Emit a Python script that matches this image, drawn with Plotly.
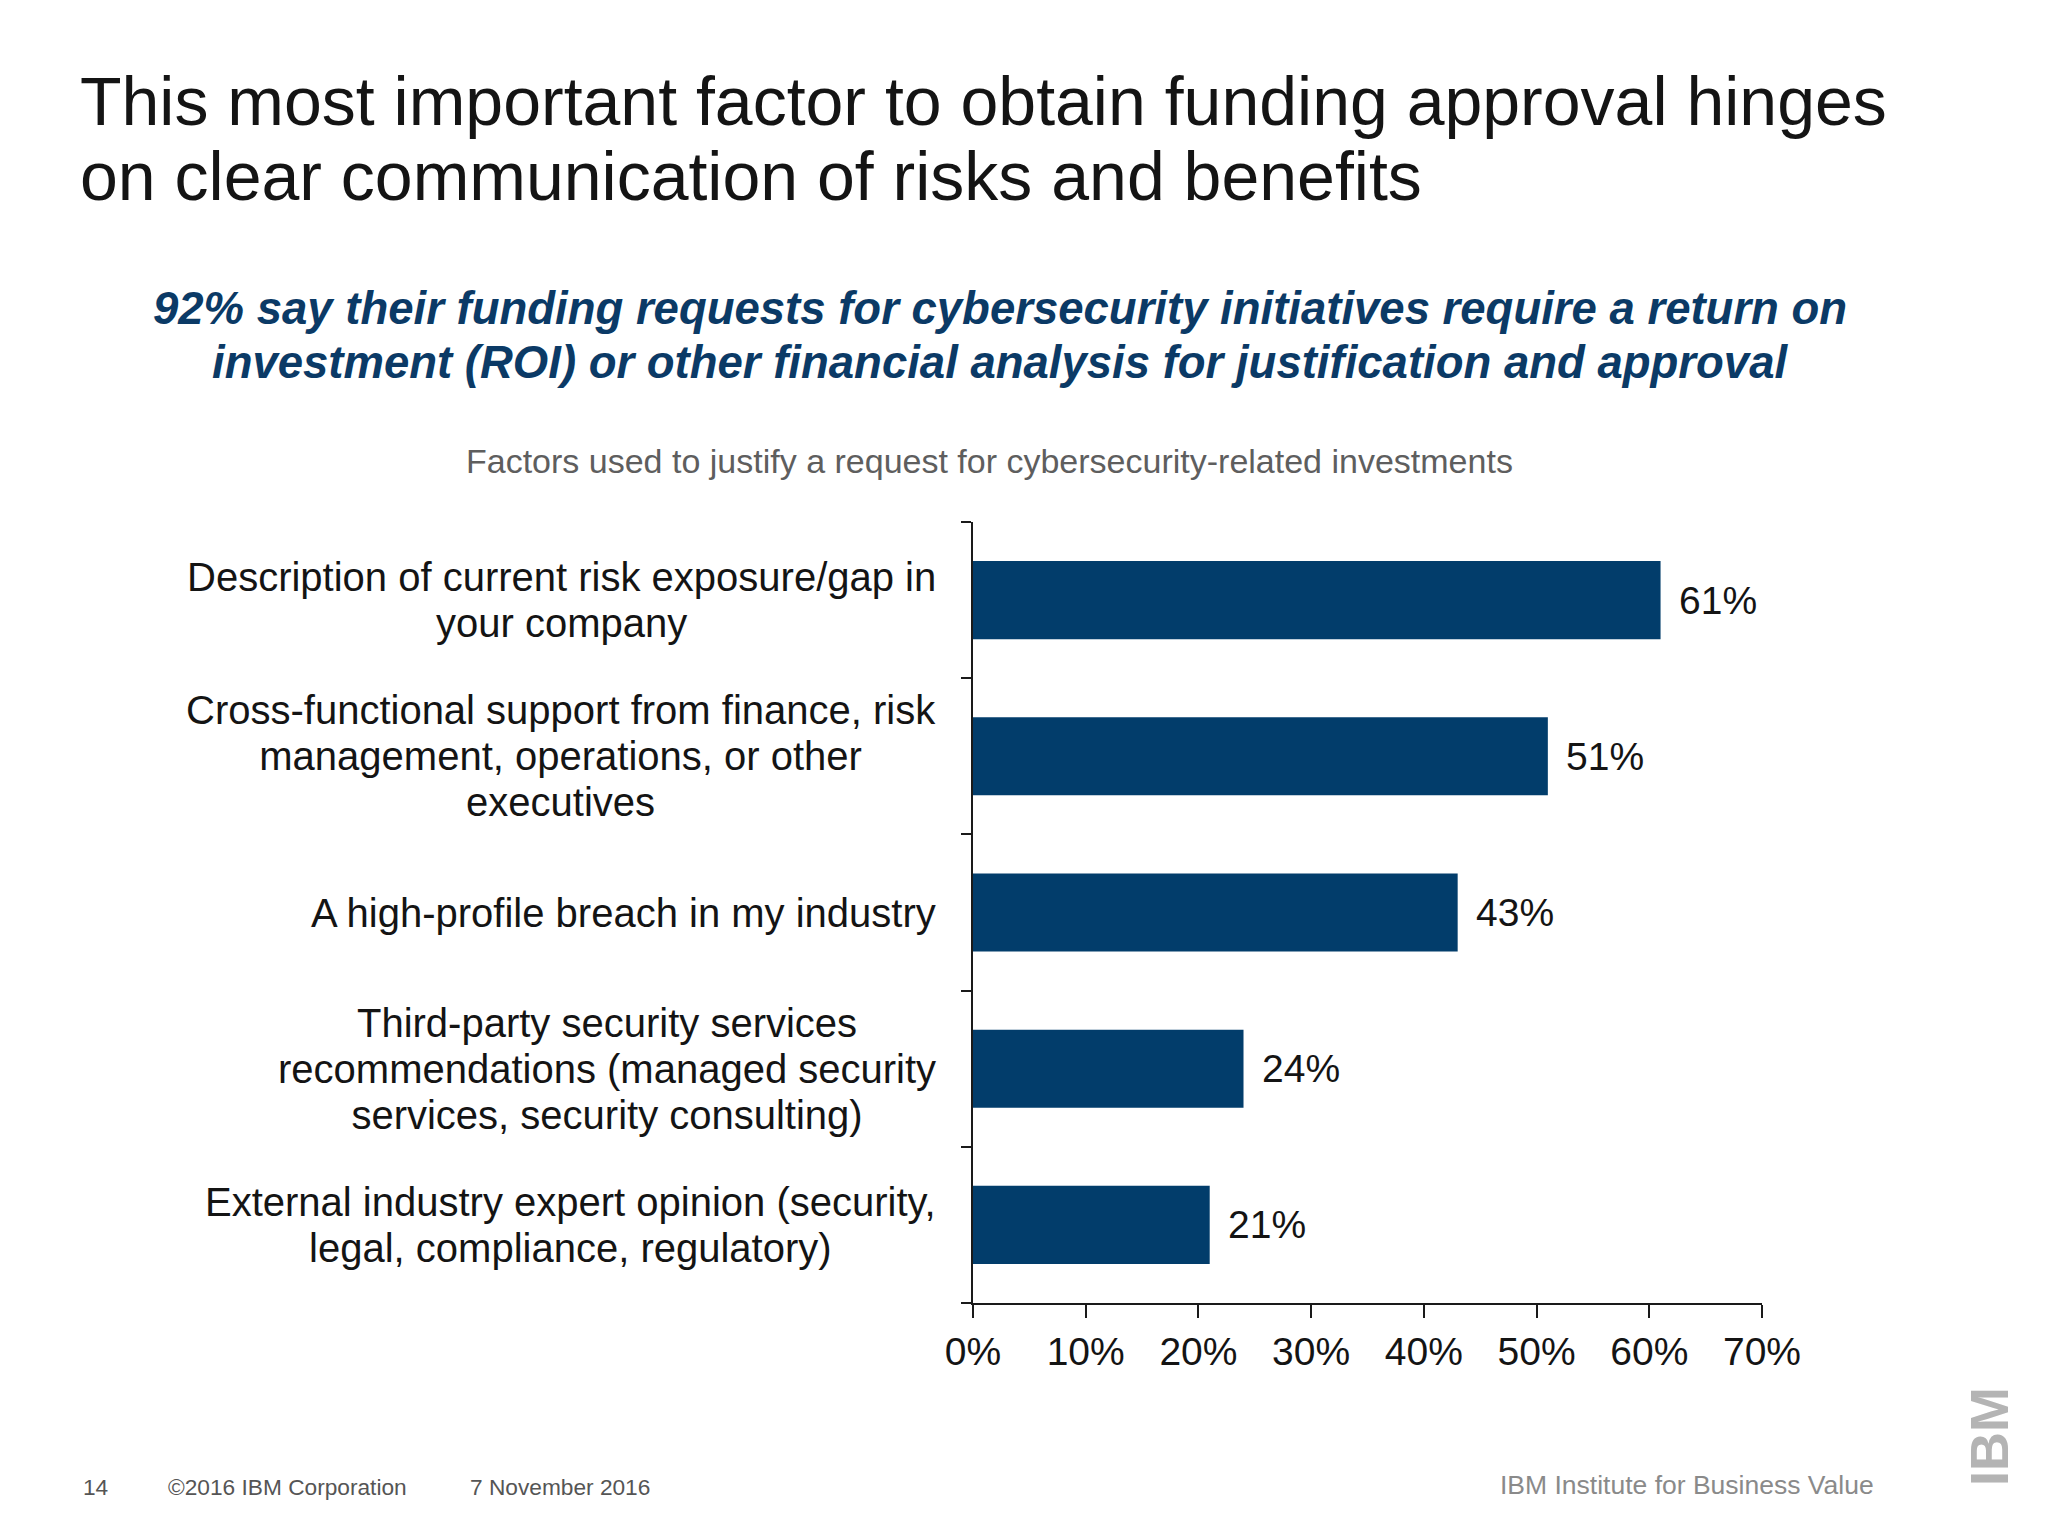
import plotly.graph_objects as go

# ---- data ----
categories = [
    "Description of current risk exposure/gap in<br>your company",
    "Cross-functional support from finance, risk<br>management, operations, or other<br>executives",
    "A high-profile breach in my industry",
    "Third-party security services<br>recommendations (managed security<br>services, security consulting)",
    "External industry expert opinion (security,<br>legal, compliance, regulatory)",
]
values = [61, 51, 43, 24, 21]
x_ticks = [0, 10, 20, 30, 40, 50, 60, 70]
x_tick_labels = ["0%", "10%", "20%", "30%", "40%", "50%", "60%", "70%"]

title_lines = [
    "This most important factor to obtain funding approval hinges",
    "on clear communication of risks and benefits",
]
subtitle_lines = [
    "92% say their funding requests for cybersecurity initiatives require a return on",
    "investment (ROI) or other financial analysis for justification and approval",
]
chart_title = "Factors used to justify a request for cybersecurity-related investments"

W, H = 2048, 1536
OFF = 8  # page body margin
PL, PR, PT, PB = 973 - OFF, 1762 - OFF, 522 - OFF, 1303 - OFF  # plot area in figure pixels

FONT = "Liberation Sans, Arial, Helvetica, sans-serif"
BAR = "#023d6b"
TXT = "#141414"


def px(xpix):
    return (xpix - OFF - PL) / (PR - PL)


def py(ypix):
    return (PB - (ypix - OFF)) / (PB - PT)


fig = go.Figure()
fig.add_trace(go.Bar(
    x=values,
    y=list(range(len(categories))),
    orientation="h",
    marker=dict(color=BAR, line=dict(width=0)),
    width=0.5,
    hoverinfo="skip",
))

annotations = []
# title
for line, yc in zip(title_lines, [101, 176]):
    annotations.append(dict(text=line, xref="paper", yref="paper", x=px(78), y=py(yc),
                            xanchor="left", yanchor="middle", showarrow=False,
                            font=dict(family=FONT, size=68, color="#141414")))
# subtitle
for line, yc in zip(subtitle_lines, [308, 362]):
    annotations.append(dict(text="<b><i>" + line + "</i></b>", xref="paper", yref="paper",
                            x=px(1000), y=py(yc), xanchor="center", yanchor="middle",
                            showarrow=False, font=dict(family=FONT, size=45.5, color="#0b3a66")))
# chart title
annotations.append(dict(text=chart_title, xref="paper", yref="paper", x=px(989), y=py(461),
                        xanchor="center", yanchor="middle", showarrow=False,
                        font=dict(family=FONT, size=34, color="#5e5e5e")))
# category labels (base size sets line spacing, inner span sets glyph size)
for i, cat in enumerate(categories):
    txt = "<br>".join('<span style="font-size:40px">' + ln + "</span>" for ln in cat.split("<br>"))
    annotations.append(dict(text=txt, xref="paper", yref="y", x=px(938), y=i,
                            xanchor="right", yanchor="middle", align="center", showarrow=False,
                            font=dict(family=FONT, size=35.5, color=TXT)))
# value labels
for i, v in enumerate(values):
    annotations.append(dict(text=f"{v}%", xref="x", yref="y", x=v, y=i, xshift=16,
                            xanchor="left", yanchor="middle", showarrow=False,
                            font=dict(family=FONT, size=39, color=TXT)))
# footer
footer = [("14", 81), ("©2016 IBM Corporation", 166), ("7 November 2016", 468)]
for t, xl in footer:
    annotations.append(dict(text=t, xref="paper", yref="paper", x=px(xl), y=py(1487),
                            xanchor="left", yanchor="middle", showarrow=False,
                            font=dict(family=FONT, size=22.7, color="#555555")))
annotations.append(dict(text="IBM Institute for Business Value", xref="paper", yref="paper",
                        x=px(1876), y=py(1485), xanchor="right", yanchor="middle", showarrow=False,
                        font=dict(family=FONT, size=26.5, color="#8a8a8a")))
annotations.append(dict(text="<b>IBM</b>", xref="paper", yref="paper", x=px(1989), y=py(1437),
                        xanchor="center", yanchor="middle", showarrow=False, textangle=-90,
                        font=dict(family=FONT, size=54, color="#b4b4b4")))

fig.update_layout(
    width=W, height=H,
    paper_bgcolor="white", plot_bgcolor="white",
    margin=dict(l=PL, r=W - PR, t=PT, b=H - PB, pad=0),
    showlegend=False,
    bargap=0.5,
    annotations=annotations,
    xaxis=dict(
        range=[0, 70], tickvals=x_ticks, ticktext=x_tick_labels,
        showgrid=False, zeroline=False,
        showline=True, linecolor="#1a1a1a", linewidth=2,
        ticks="outside", ticklen=13, tickwidth=2, tickcolor="#1a1a1a",
        tickfont=dict(family=FONT, size=39, color=TXT),
        ticklabelstandoff=0,
    ),
    yaxis=dict(
        type="linear", range=[len(categories) - 0.5, -0.5],
        tickvals=[i - 0.5 for i in range(len(categories) + 1)],
        showticklabels=False,
        showgrid=False, zeroline=False,
        showline=True, linecolor="#1a1a1a", linewidth=2,
        ticks="outside", ticklen=10, tickwidth=2, tickcolor="#1a1a1a",
    ),
)

fig.write_html("out.html")
